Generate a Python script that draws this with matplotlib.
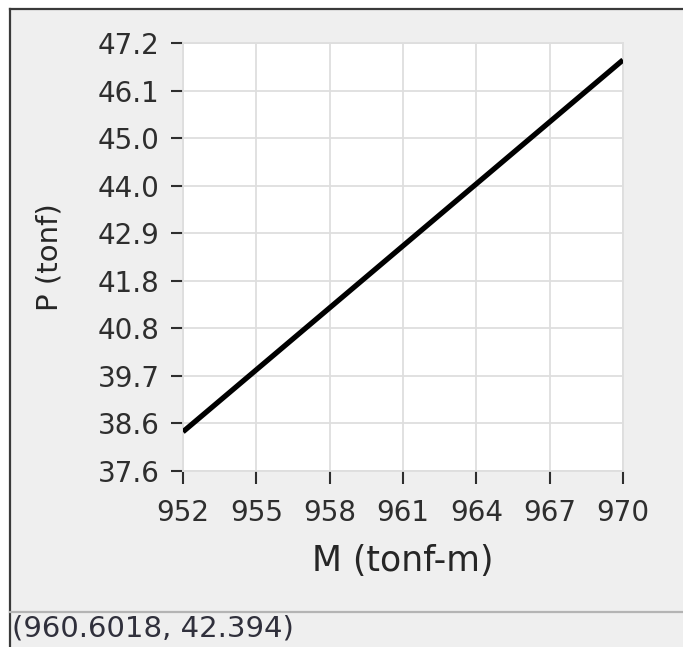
import numpy as np
import matplotlib.pyplot as plt
from matplotlib.patches import Rectangle
from matplotlib.lines import Line2D

plt.rcParams['font.family'] = 'DejaVu Sans'

# interaction curve points
moment = [952, 955, 958, 961, 964, 967, 970]
axial = [38.48, 39.87, 41.26, 42.65, 44.04, 45.43, 46.82]

x_ticks = [952, 955, 958, 961, 964, 967, 970]
y_tick_labels = ['37.6', '38.6', '39.7', '40.8', '41.8', '42.9', '44.0', '45.0', '46.1', '47.2']
y_min, y_max = 37.6, 47.2

cursor_text = '(960.6018, 42.394)'

W, H = 683, 647
fig = plt.figure(figsize=(W / 100, H / 100), dpi=100, facecolor='white')

# window panel background and frame
fig.patches.append(Rectangle((10 / W, 0), 1 - 10 / W, 1 - 9 / H, transform=fig.transFigure,
                             facecolor='#efefef', edgecolor='none', zorder=-10))
fig.lines.append(Line2D([10 / W, 1], [1 - 9 / H, 1 - 9 / H], transform=fig.transFigure,
                        color='#3a3a3a', lw=1.6, zorder=-5))
fig.lines.append(Line2D([10 / W, 10 / W], [0, 1 - 9 / H], transform=fig.transFigure,
                        color='#3a3a3a', lw=1.6, zorder=-5))
fig.lines.append(Line2D([10 / W, 1], [1 - 612 / H, 1 - 612 / H], transform=fig.transFigure,
                        color='#b4b4b4', lw=1.6, zorder=-5))

ax = fig.add_axes([183 / W, 1 - 471 / H, 440 / W, 428 / H])
ax.set_facecolor('white')
ax.plot(moment, axial, color='black', lw=3.8, solid_capstyle='butt', zorder=3)

ax.set_xlim(x_ticks[0], x_ticks[-1])
ax.set_ylim(y_min, y_max)
ax.set_xticks(x_ticks)
ax.set_xticklabels([str(t) for t in x_ticks])
ax.set_yticks(np.linspace(y_min, y_max, len(y_tick_labels)))
ax.set_yticklabels(y_tick_labels)

ax.grid(True, color='#dedede', lw=1.3)
for s in ax.spines.values():
    s.set_color('#dedede')
    s.set_linewidth(1.3)
ax.set_axisbelow(True)

ax.tick_params(axis='both', direction='out', length=9, width=1.5, color='#2e2e2e',
               labelsize=20, labelcolor='#2e2e2e')
ax.tick_params(axis='x', pad=11)
ax.tick_params(axis='y', pad=8)

ax.set_xlabel('M (tonf-m)', fontsize=25, color='#262626')
ax.xaxis.set_label_coords(0.5, -0.17)
ax.set_ylabel('P (tonf)', fontsize=21, color='#262626')
ax.yaxis.set_label_coords(-0.272, 0.5)

fig.text(12 / W, 1 - 614 / H, cursor_text, fontsize=21, color='#30303c', va='top', ha='left')

fig.savefig('out.png', dpi=100, facecolor=fig.get_facecolor())
